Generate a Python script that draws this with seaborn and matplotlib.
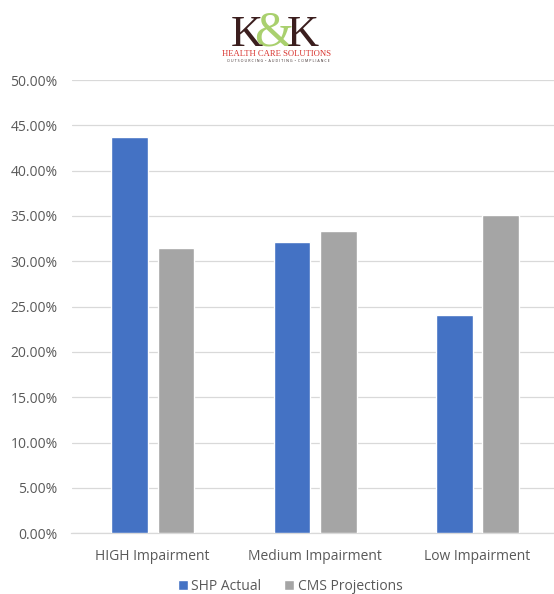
import matplotlib
matplotlib.use("Agg")
import matplotlib.pyplot as plt
import seaborn as sns
import pandas as pd
from matplotlib.ticker import FuncFormatter

categories = ["HIGH Impairment", "Medium Impairment", "Low Impairment"]
series_names = ["SHP Actual", "CMS Projections"]
shp_actual = [0.4376, 0.3210, 0.2410]
cms_projections = [0.3146, 0.3337, 0.3513]
y_ticks = [0.0, 0.05, 0.10, 0.15, 0.20, 0.25, 0.30, 0.35, 0.40, 0.45, 0.50]

df = pd.DataFrame({
    "Category": categories * 2,
    "Series": [series_names[0]] * 3 + [series_names[1]] * 3,
    "Value": shp_actual + cms_projections,
})

sns.set_theme(style="white")
plt.rcParams["font.family"] = ["Open Sans", "DejaVu Sans"]

W, H = 554, 594
fig = plt.figure(figsize=(W / 100, H / 100), dpi=100)
left, right, top, bottom = 71.5, 558.8, 80.0, 533.3
ax = fig.add_axes([left / W, 1 - bottom / H, (right - left) / W, (bottom - top) / H])

palette = {"SHP Actual": "#4472C4", "CMS Projections": "#A5A5A5"}
sns.barplot(data=df, x="Category", y="Value", hue="Series", order=categories,
            hue_order=series_names, palette=palette, width=0.571, gap=0.209,
            saturation=1, ax=ax, legend=True, zorder=3)

ax.set_ylim(0, 0.5)
ax.set_xlim(-0.5, 2.5)
ax.set_yticks(y_ticks)
ax.yaxis.set_major_formatter(FuncFormatter(lambda v, p: f"{v*100:.2f}%"))
ax.grid(axis="y", color="#D9D9D9", linewidth=0.9, zorder=0)
ax.grid(axis="x", visible=False)
for s in ["top", "right", "left"]:
    ax.spines[s].set_visible(False)
ax.spines["bottom"].set_color("#D9D9D9")
ax.spines["bottom"].set_linewidth(0.9)
ax.tick_params(axis="y", length=0, pad=10, labelsize=10, labelcolor="#595959")
ax.tick_params(axis="x", length=0, pad=11, labelsize=10, labelcolor="#595959")
ax.set_xlabel("")
ax.set_ylabel("")

handles, labels = ax.get_legend_handles_labels()
ax.legend_.remove()
fig.legend(handles, labels, loc="center", bbox_to_anchor=(290 / W, 1 - 586 / H),
           ncol=2, frameon=False, fontsize=10, labelcolor="#595959",
           handlelength=0.75, handleheight=0.75, handletextpad=0.25,
           columnspacing=1.6)

# Logo
serif = ["Liberation Serif", "DejaVu Serif"]
fig.text(274 / W, 1 - 46 / H, "&", fontsize=36, color="#A9D06E", family=serif,
         ha="center", va="baseline")
fig.text(247 / W, 1 - 46 / H, "K", fontsize=32, color="#3B1E1E", family=serif,
         ha="center", va="baseline")
fig.text(303 / W, 1 - 46 / H, "K", fontsize=32, color="#3B1E1E", family=serif,
         ha="center", va="baseline")
fig.text(276 / W, 1 - 53.5 / H, "HEALTH CARE SOLUTIONS", fontsize=6.2,
         color="#D8342F", family=serif, ha="center", va="center")
fig.text(278 / W, 1 - 61.5 / H, "O U T S O U R C I N G  \u2022  A U D I T I N G  \u2022  C O M P L I A N C E",
         fontsize=2.6, color="#3B2B2B", ha="center", va="center")

fig.savefig("out.png", dpi=100, facecolor="white")
